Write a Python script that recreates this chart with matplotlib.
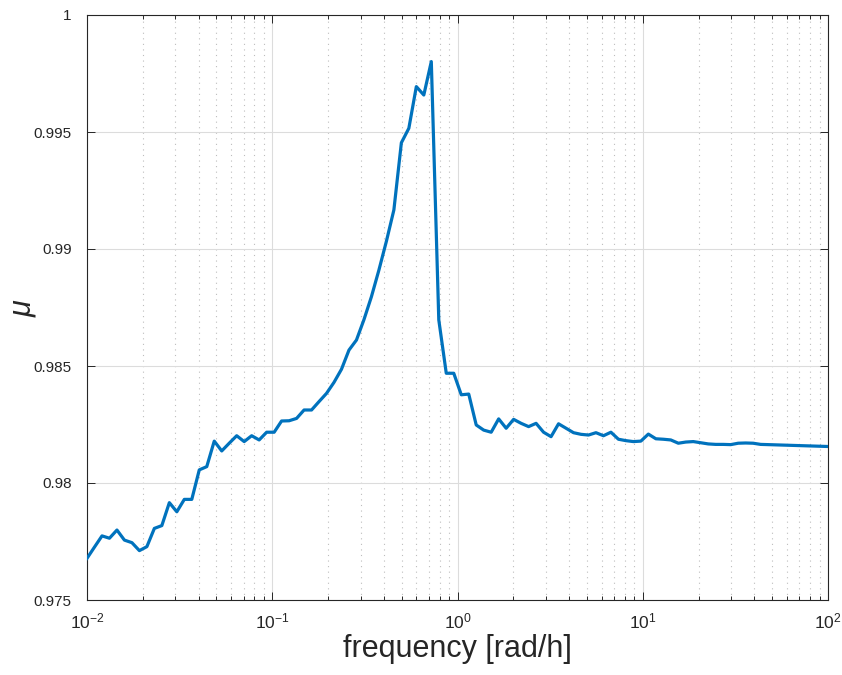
import matplotlib
matplotlib.use("Agg")
import matplotlib.pyplot as plt
from matplotlib.ticker import FixedLocator, FixedFormatter, LogLocator, NullFormatter

# frequency grid [rad/h] (100 log-spaced samples, 1e-2 .. 1e2)
freq = [
    0.01, 0.01097, 0.01205, 0.01322, 0.01451, 0.01592, 0.01748, 0.01918, 0.02105, 0.02310,
    0.02535, 0.02783, 0.03054, 0.03352, 0.03678, 0.04037, 0.04431, 0.04863, 0.05337, 0.05857,
    0.06428, 0.07055, 0.07743, 0.08498, 0.09326, 0.1024, 0.1123, 0.1233, 0.1353, 0.1485,
    0.1630, 0.1789, 0.1963, 0.2154, 0.2364, 0.2595, 0.2848, 0.3126, 0.3430, 0.3765,
    0.4132, 0.4535, 0.4977, 0.5462, 0.5995, 0.6579, 0.7221, 0.7925, 0.8697, 0.9545,
    1.048, 1.150, 1.262, 1.385, 1.520, 1.668, 1.831, 2.009, 2.205, 2.420,
    2.656, 2.915, 3.199, 3.511, 3.854, 4.229, 4.642, 5.094, 5.591, 6.136,
    6.734, 7.391, 8.111, 8.902, 9.770, 10.72, 11.77, 12.92, 14.17, 15.56,
    17.07, 18.74, 20.57, 22.57, 24.77, 27.19, 29.84, 32.75, 35.94, 39.44,
    43.29, 47.51, 52.14, 57.22, 62.80, 68.92, 75.65, 83.02, 91.12, 100.0,
]

mu = [
    0.97678, 0.97726, 0.97774, 0.97764, 0.97799, 0.97756, 0.97745, 0.97711, 0.97728, 0.97806,
    0.97818, 0.97916, 0.97877, 0.97930, 0.97930, 0.98056, 0.98070, 0.98179, 0.98137, 0.98170,
    0.98202, 0.98177, 0.98202, 0.98184, 0.98217, 0.98217, 0.98265, 0.98266, 0.98276, 0.98312,
    0.98312, 0.98348, 0.98383, 0.98430, 0.98486, 0.98568, 0.98611, 0.98698, 0.98796, 0.98910,
    0.99033, 0.99167, 0.99454, 0.99516, 0.99694, 0.99658, 0.99801, 0.98697, 0.98469, 0.98469,
    0.98377, 0.98380, 0.98248, 0.98226, 0.98217, 0.98274, 0.98234, 0.98272, 0.98255, 0.98241,
    0.98255, 0.98217, 0.98198, 0.98253, 0.98234, 0.98215, 0.98208, 0.98205, 0.98215, 0.98202,
    0.98217, 0.98187, 0.98181, 0.98177, 0.98179, 0.98209, 0.98189, 0.98187, 0.98184, 0.98170,
    0.98175, 0.98177, 0.98172, 0.98167, 0.98165, 0.98165, 0.98164, 0.98170, 0.98171, 0.98170,
    0.98165, 0.98164, 0.98163, 0.98162, 0.98161, 0.98160, 0.98159, 0.98158, 0.98157, 0.98156,
]

y_ticks = [0.975, 0.98, 0.985, 0.99, 0.995, 1.0]
y_labels = ["0.975", "0.98", "0.985", "0.99", "0.995", "1"]
x_ticks = [1e-2, 1e-1, 1e0, 1e1, 1e2]
x_labels = [r"$10^{-2}$", r"$10^{-1}$", r"$10^{0}$", r"$10^{1}$", r"$10^{2}$"]

plt.rcParams["font.family"] = ["Liberation Sans", "DejaVu Sans"]
plt.rcParams["mathtext.fontset"] = "custom"
plt.rcParams["mathtext.rm"] = "Liberation Sans"
plt.rcParams["mathtext.it"] = "Liberation Sans:italic"

axc = "#262626"
fig = plt.figure(figsize=(8.42, 6.75), dpi=100)
ax = fig.add_axes([87 / 842, 75 / 675, 741 / 842, 585 / 675])

ax.semilogx(freq, mu, color="#0072BD", lw=2.3, zorder=3)

ax.set_xlim(1e-2, 1e2)
ax.set_ylim(0.975, 1.0)
ax.xaxis.set_major_locator(FixedLocator(x_ticks))
ax.xaxis.set_major_formatter(FixedFormatter(x_labels))
ax.xaxis.set_minor_locator(LogLocator(base=10, subs=range(2, 10)))
ax.xaxis.set_minor_formatter(NullFormatter())
ax.yaxis.set_major_locator(FixedLocator(y_ticks))
ax.yaxis.set_major_formatter(FixedFormatter(y_labels))

ax.grid(which="major", color="#dcdcdc", lw=0.8, ls="-", zorder=0)
ax.grid(which="minor", axis="x", color="#bdbdbd", lw=0.8, ls=(0, (1, 4)), zorder=0)
ax.set_axisbelow(True)

for s in ax.spines.values():
    s.set_color(axc)
    s.set_linewidth(0.8)
ax.tick_params(which="both", direction="in", top=True, right=True, colors=axc,
               labelcolor=axc, width=0.7)
ax.tick_params(axis="y", labelsize=11, pad=11)
ax.tick_params(axis="x", labelsize=12.5, pad=8)
ax.tick_params(which="major", length=6)
ax.tick_params(which="minor", length=3)

ax.set_xlabel("frequency [rad/h]", fontsize=22, color=axc, labelpad=2)
ax.set_ylabel(r"$\mu$", fontsize=22, color=axc)
ax.yaxis.set_label_coords(-0.066, 0.5)

fig.savefig("out.png", dpi=100)
